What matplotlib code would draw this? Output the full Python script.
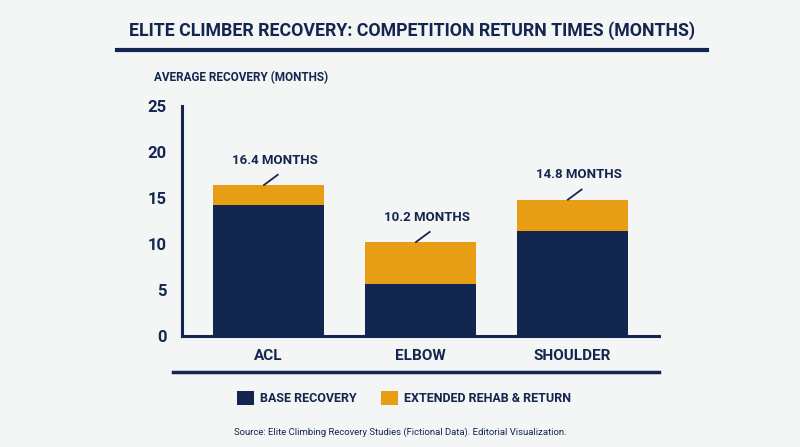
import numpy as np
import matplotlib.pyplot as plt
from matplotlib.lines import Line2D

plt.rcParams['font.family'] = ['Roboto', 'DejaVu Sans']
plt.rcParams['font.weight'] = 'bold'

# data
categories = ['ACL', 'ELBOW', 'SHOULDER']
base_recovery = [14.2, 5.6, 11.4]
extended_rehab = [2.2, 4.6, 3.4]
totals = [16.4, 10.2, 14.8]

NAVY = '#13264f'
ORANGE = '#e89e14'
BG = '#f4f5f5'

fig = plt.figure(figsize=(8, 4.47), dpi=100, facecolor=BG)
ax = fig.add_axes([0.2275, 0.2483, 0.5963, 0.5152])
ax.set_facecolor(BG)

x = np.arange(len(categories))
b1 = ax.bar(x, base_recovery, width=0.73, color=NAVY, label='BASE RECOVERY')
b2 = ax.bar(x, extended_rehab, width=0.73, bottom=base_recovery, color=ORANGE,
            label='EXTENDED REHAB & RETURN')

# total labels with small leader lines
for xi, t in zip(x, totals):
    ax.plot([xi - 0.03, xi + 0.06], [t, t + 1.1], color=NAVY, lw=1.3)
    ax.text(xi + 0.04, t + 2.7, f'{t:.1f} MONTHS', ha='center', va='center',
            fontsize=9.5, color=NAVY, fontweight='bold')

ax.set_xlim(-0.57, 2.57)
ax.set_ylim(0, 25)
ax.set_yticks([0, 5, 10, 15, 20, 25])
ax.set_xticks(x)
ax.set_xticklabels(categories)
ax.tick_params(axis='both', length=0, colors=NAVY)
ax.tick_params(axis='y', labelsize=12, pad=11)
ax.tick_params(axis='x', labelsize=11, pad=9)
for lab in ax.get_xticklabels() + ax.get_yticklabels():
    lab.set_fontweight('bold')
for s in ['top', 'right']:
    ax.spines[s].set_visible(False)
for s in ['left', 'bottom']:
    ax.spines[s].set_color(NAVY)
    ax.spines[s].set_linewidth(2.2)

# title and rules
fig.text(412 / 800, 1 - 31 / 447, 'ELITE CLIMBER RECOVERY: COMPETITION RETURN TIMES (MONTHS)',
         ha='center', va='center', fontsize=12.8, color=NAVY, fontweight='bold')
fig.add_artist(Line2D([117 / 800, 707 / 800], [1 - 50 / 447, 1 - 50 / 447],
                      color=NAVY, lw=3))
fig.text(154 / 800, 1 - 78 / 447, 'AVERAGE RECOVERY (MONTHS)', ha='left', va='center',
         fontsize=8.5, color=NAVY, fontweight='bold')
fig.add_artist(Line2D([173 / 800, 659 / 800], [1 - 372 / 447, 1 - 372 / 447],
                      color=NAVY, lw=2.5))

leg = fig.legend(handles=[b1, b2], loc='center', bbox_to_anchor=(404 / 800, 1 - 398 / 447),
                 ncol=2, frameon=False, fontsize=9, handlelength=1.35, handleheight=1.35,
                 handletextpad=0.5, columnspacing=1.9)
for t in leg.get_texts():
    t.set_color(NAVY)
    t.set_fontweight('bold')

fig.text(400 / 800, 1 - 432 / 447,
         'Source: Elite Climbing Recovery Studies (Fictional Data). Editorial Visualization.',
         ha='center', va='center', fontsize=6.8, color=NAVY, fontweight='normal')

fig.savefig('out.png', dpi=100, facecolor=BG)
